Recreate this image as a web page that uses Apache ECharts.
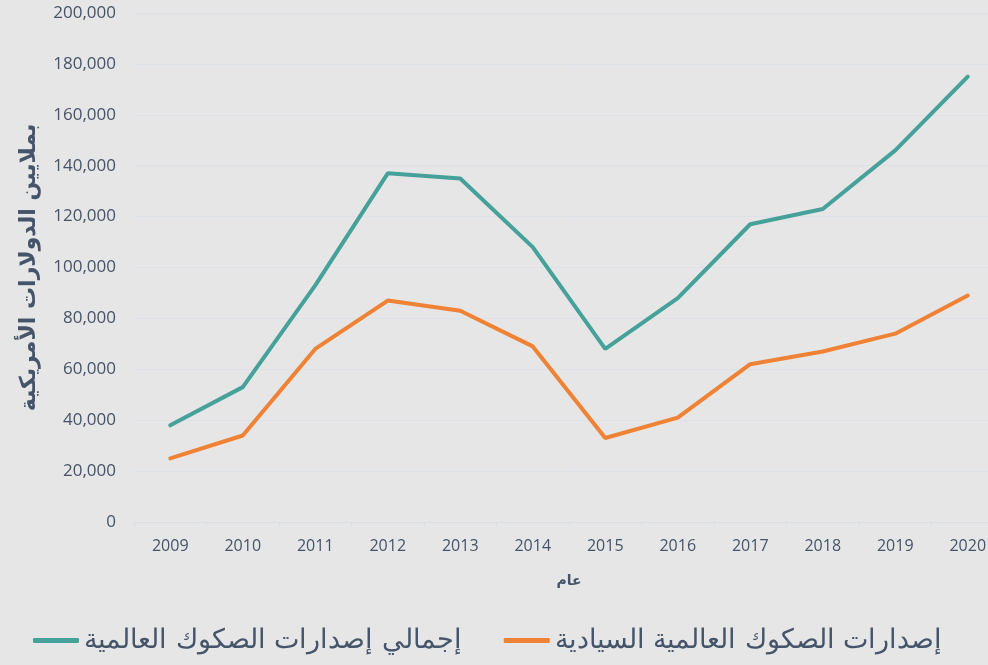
<!DOCTYPE html>
<html>
<head>
<meta charset="utf-8">
<script src="https://cdn.jsdelivr.net/npm/echarts@6/dist/echarts.min.js"></script>
<style>
html,body{margin:0;padding:0;background:#e6e6e6;}
#chart{width:988px;height:665px;}
</style>
</head>
<body>
<div id="chart"></div>
<script>
var years=['2009','2010','2011','2012','2013','2014','2015','2016','2017','2018','2019','2020'];
var totalSukuk=[38000,53000,93000,137000,135000,108000,68000,88000,117000,123000,146000,175000];
var sovereignSukuk=[25000,34000,68000,87000,83000,69000,33000,41000,62000,67000,74000,89000];
var totalName='إجمالي إصدارات الصكوك العالمية';
var sovereignName='إصدارات الصكوك العالمية السيادية';

var chart=echarts.init(document.getElementById('chart'));
var labelColor='#44546a';
chart.setOption({
    backgroundColor:'#e6e6e6',
    animation:false,
    grid:{left:134,width:870,top:13,bottom:143,outerBoundsMode:'none'},
    legend:{
        left:28,
        bottom:6,
        itemWidth:46,
        itemHeight:5,
        itemGap:42,
        icon:'roundRect',
        textStyle:{fontFamily:'DejaVu Serif, serif',fontSize:27,color:labelColor},
        data:[totalName,sovereignName]
    },
    xAxis:{
        type:'category',
        data:years,
        name:'عام',
        nameLocation:'middle',
        nameGap:52,
        nameTextStyle:{fontFamily:'DejaVu Sans',fontSize:14,fontWeight:'bold',color:labelColor},
        axisLine:{lineStyle:{color:'#d9dee5'}},
        axisTick:{show:true,lineStyle:{color:'#d9dee5'}},
        axisLabel:{fontFamily:'Open Sans',fontSize:16,color:labelColor,margin:16}
    },
    yAxis:{
        type:'value',
        min:0,
        max:200000,
        interval:20000,
        name:'بملايين الدولارات الأمريكية',
        nameLocation:'middle',
        nameGap:94,
        nameTextStyle:{fontFamily:'DejaVu Sans',fontSize:22,fontWeight:'bold',color:labelColor},
        axisLine:{show:false},
        axisTick:{show:false},
        axisLabel:{
            fontFamily:'Open Sans',fontSize:17,color:labelColor,margin:18,
            formatter:function(v){return v.toLocaleString('en-US');}
        },
        splitLine:{lineStyle:{color:'#dde2e8',width:1}}
    },
    series:[
        {
            name:totalName,
            type:'line',
            data:totalSukuk,
            symbol:'none',
            lineStyle:{width:4,color:'#46a19b',cap:'round'},
            itemStyle:{color:'#46a19b'}
        },
        {
            name:sovereignName,
            type:'line',
            data:sovereignSukuk,
            symbol:'none',
            lineStyle:{width:4,color:'#ef8234',cap:'round'},
            itemStyle:{color:'#ef8234'}
        }
    ]
});
</script>
</body>
</html>
